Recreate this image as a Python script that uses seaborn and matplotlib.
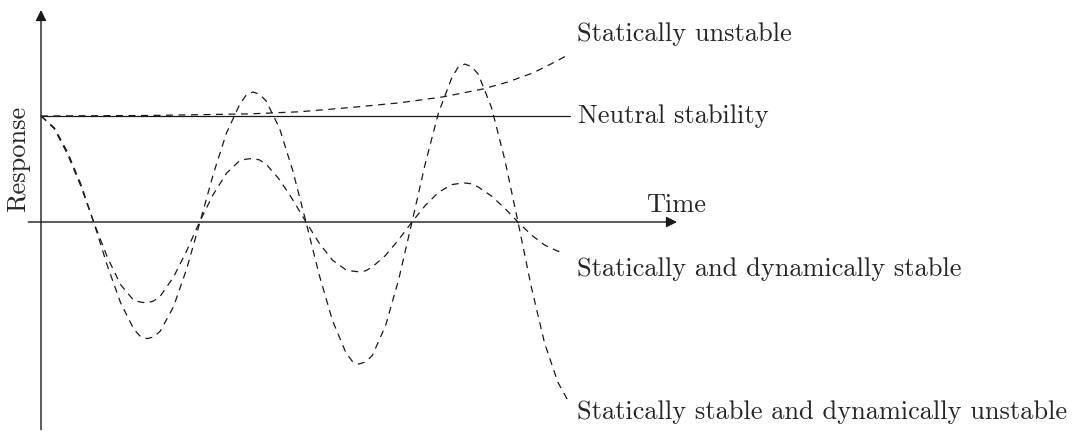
import numpy as np
import pandas as pd
import matplotlib
matplotlib.use('Agg')
import matplotlib.pyplot as plt
import seaborn as sns

# time in half periods, response normalised to the initial disturbance
t_osc = [0, 0.125, 0.25, 0.375, 0.5, 0.625, 0.75, 0.875, 0.9375,
         1.0, 1.0625, 1.125, 1.25, 1.375, 1.5, 1.625, 1.75, 1.875, 1.9375,
         2.0, 2.0625, 2.125, 2.25, 2.375, 2.5, 2.625, 2.75, 2.875, 2.9375,
         3.0, 3.0625, 3.125, 3.25, 3.375, 3.5, 3.625, 3.75, 3.875, 3.9375,
         4.0, 4.0625, 4.125, 4.25, 4.375, 4.5, 4.625, 4.75, 4.875]

damped = [1.00, 0.88, 0.64, 0.34, -0.01, -0.33, -0.59, -0.74, -0.755,
          -0.764, -0.745, -0.70, -0.52, -0.27, 0.01, 0.26, 0.46, 0.58, 0.593,
          0.60, 0.585, 0.545, 0.40, 0.21, 0.0, -0.20, -0.36, -0.45, -0.463,
          -0.47, -0.46, -0.425, -0.315, -0.166, 0.0, 0.156, 0.28, 0.353, 0.362,
          0.368, 0.36, 0.33, 0.245, 0.129, 0.0, -0.121, -0.217, -0.275]

growing = [1.00, 0.89, 0.66, 0.36, -0.01, -0.41, -0.76, -1.01, -1.08,
           -1.10, -1.085, -1.03, -0.80, -0.44, 0.0, 0.45, 0.84, 1.11, 1.20,
           1.226, 1.205, 1.14, 0.885, 0.485, 0.0, -0.50, -0.93, -1.23, -1.315,
           -1.34, -1.32, -1.26, -0.98, -0.54, 0.0, 0.55, 1.03, 1.36, 1.465,
           1.49, 1.465, 1.395, 1.08, 0.59, 0.0, -0.61, -1.14, -1.51]

# end points of the two oscillating traces
t_damped_end, damped_end = 4.93, -0.285
t_growing_end, growing_end = 4.98, -1.70

t_unstable = [0, 1.03, 1.97, 2.44, 2.92, 3.39, 3.79, 4.17, 4.4, 4.64, 4.8, 4.97]
unstable = [1.0, 1.005, 1.02, 1.04, 1.08, 1.125, 1.18, 1.255, 1.32, 1.406, 1.485, 1.575]

t_neutral = [0, 4.99]
neutral = [1.0, 1.0]

labels = ['Statically unstable', 'Neutral stability',
          'Statically and dynamically stable',
          'Statically stable and dynamically unstable']
label_y = [1.77, 1.0, -0.44, -1.79]

sns.set_theme(style='white')
plt.rcParams['font.family'] = 'serif'
plt.rcParams['font.serif'] = ['cmr10', 'DejaVu Serif']
plt.rcParams['mathtext.fontset'] = 'cm'
plt.rcParams['lines.scale_dashes'] = False

fig = plt.figure(figsize=(10.73, 4.32), dpi=100)
ax = fig.add_axes([0, 0, 1, 1])
ax.set_xlim(-41 / 106, (1073 - 41) / 106)
ax.set_ylim(-210 / 106, 222 / 106)
ax.set_axis_off()

dash = (0, (5, 4))
curves = [(t_osc + [t_damped_end], damped + [damped_end]),
          (t_osc + [t_growing_end], growing + [growing_end]),
          (t_unstable, unstable)]
for tx, ry in curves:
    sns.lineplot(x=tx, y=ry, ax=ax, color='k', lw=0.9, linestyle=dash,
                 sort=False, estimator=None)
sns.lineplot(x=t_neutral, y=neutral, ax=ax, color='k', lw=0.9,
             sort=False, estimator=None)

# axes with arrow heads
arrow = dict(arrowstyle='-|>', color='k', lw=1.0, mutation_scale=16,
             shrinkA=0, shrinkB=0)
ax.annotate('', xy=(6.0, 0), xytext=(-0.12, 0), arrowprops=arrow)
ax.annotate('', xy=(0, 2.0), xytext=(0, -1.96), arrowprops=arrow)

fs = 19
ax.text(5.99, 0.16, 'Time', fontsize=fs, ha='center', va='center')
ax.text(-0.217, 0.60, 'Response', fontsize=fs, rotation=90,
        ha='center', va='center')
for lab, y in zip(labels, label_y):
    x0 = 5.066 if lab == 'Neutral stability' else 5.057
    ax.text(x0, y, lab, fontsize=fs, ha='left', va='center')

fig.savefig('out.png', dpi=100, facecolor='white')
